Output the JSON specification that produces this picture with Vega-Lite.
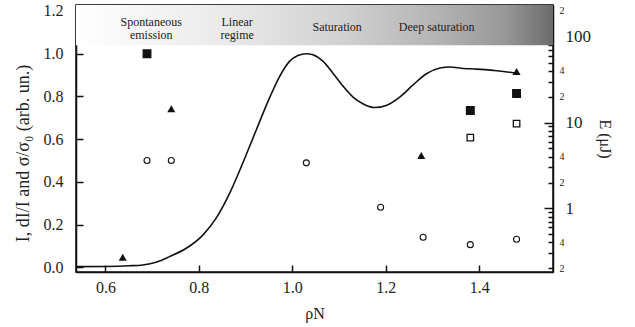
{
  "$schema": "https://vega.github.io/schema/vega-lite/v6.json",
  "autosize": {"type": "none"},
  "padding": {"left": 76, "top": 5, "right": 82, "bottom": 55},
  "width": 477,
  "height": 267,
  "background": "white",
  "config": {
    "font": "Liberation Serif",
    "view": {"stroke": "#111", "strokeWidth": 1.5},
    "axis": {
      "grid": false,
      "zindex": 1,
      "domainColor": "#111",
      "domainWidth": 1.5,
      "tickColor": "#111",
      "tickWidth": 1.5,
      "labelColor": "#222",
      "titleColor": "#222",
      "labelFont": "Liberation Serif",
      "titleFont": "Liberation Serif",
      "titleFontWeight": "normal",
      "labelFontSize": 16,
      "titleFontSize": 16,
      "labelFlush": false,
      "labelOverlap": false
    }
  },
  "datasets": {
    "curve": [
      {"rhoN": 0.537, "I": 0.003}, {"rhoN": 0.6, "I": 0.004}, {"rhoN": 0.65, "I": 0.007},
      {"rhoN": 0.68, "I": 0.011}, {"rhoN": 0.71, "I": 0.025}, {"rhoN": 0.737, "I": 0.05},
      {"rhoN": 0.773, "I": 0.089}, {"rhoN": 0.809, "I": 0.152}, {"rhoN": 0.837, "I": 0.23},
      {"rhoN": 0.866, "I": 0.347}, {"rhoN": 0.894, "I": 0.488}, {"rhoN": 0.923, "I": 0.644},
      {"rhoN": 0.951, "I": 0.792}, {"rhoN": 0.973, "I": 0.894}, {"rhoN": 0.994, "I": 0.964},
      {"rhoN": 1.012, "I": 0.992}, {"rhoN": 1.03, "I": 1.0}, {"rhoN": 1.044, "I": 0.995},
      {"rhoN": 1.066, "I": 0.964}, {"rhoN": 1.087, "I": 0.909}, {"rhoN": 1.109, "I": 0.847},
      {"rhoN": 1.13, "I": 0.797}, {"rhoN": 1.151, "I": 0.766}, {"rhoN": 1.176, "I": 0.748},
      {"rhoN": 1.201, "I": 0.758}, {"rhoN": 1.23, "I": 0.797}, {"rhoN": 1.259, "I": 0.855},
      {"rhoN": 1.287, "I": 0.906}, {"rhoN": 1.316, "I": 0.933}, {"rhoN": 1.337, "I": 0.9375},
      {"rhoN": 1.366, "I": 0.931}, {"rhoN": 1.394, "I": 0.928}, {"rhoN": 1.43, "I": 0.922},
      {"rhoN": 1.466, "I": 0.913}, {"rhoN": 1.484, "I": 0.906}
    ],
    "triangles": [
      {"rhoN": 0.637, "v": 0.047}, {"rhoN": 0.741, "v": 0.742},
      {"rhoN": 1.276, "v": 0.523}, {"rhoN": 1.48, "v": 0.917}
    ],
    "circles": [
      {"rhoN": 0.689, "v": 0.5}, {"rhoN": 0.741, "v": 0.5}, {"rhoN": 1.03, "v": 0.489},
      {"rhoN": 1.189, "v": 0.281}, {"rhoN": 1.28, "v": 0.141}, {"rhoN": 1.381, "v": 0.106},
      {"rhoN": 1.48, "v": 0.131}
    ],
    "energy": [
      {"rhoN": 0.689, "E": 63.4, "kind": "filled"},
      {"rhoN": 1.381, "E": 13.8, "kind": "filled"},
      {"rhoN": 1.48, "E": 21.8, "kind": "filled"},
      {"rhoN": 1.381, "E": 6.68, "kind": "open"},
      {"rhoN": 1.48, "E": 9.72, "kind": "open"}
    ],
    "regimes": [
      {"rhoN": 0.698, "label": "Spontaneous\nemission"},
      {"rhoN": 0.882, "label": "Linear\nregime"},
      {"rhoN": 1.096, "label": "Saturation"},
      {"rhoN": 1.309, "label": "Deep saturation"}
    ],
    "band": [{"x1": 0.537, "x2": 1.558, "y1": 1.039, "y2": 1.228}]
  },
  "layer": [
    {
      "data": {"name": "band"},
      "mark": {
        "type": "rect",
        "color": {
          "gradient": "linear", "x1": 0, "y1": 0, "x2": 1, "y2": 0,
          "stops": [
            {"offset": 0, "color": "#ffffff"},
            {"offset": 0.3, "color": "#ebebeb"},
            {"offset": 0.55, "color": "#d2d2d2"},
            {"offset": 0.75, "color": "#b5b5b5"},
            {"offset": 0.9, "color": "#979797"},
            {"offset": 1, "color": "#6c6c6c"}
          ]
        }
      },
      "encoding": {
        "x": {"field": "x1", "type": "quantitative", "scale": {"domain": [0.537, 1.558], "nice": false, "zero": false}, "axis": null},
        "x2": {"field": "x2"},
        "y": {"field": "y1", "type": "quantitative", "scale": {"domain": [-0.022, 1.228], "nice": false, "zero": false}, "axis": null},
        "y2": {"field": "y2"}
      }
    },
    {
      "data": {"name": "regimes"},
      "transform": [{"filter": "indexof(datum.label, '\\n') >= 0"}],
      "mark": {"type": "text", "font": "Liberation Serif", "fontSize": 12, "color": "#222", "baseline": "middle", "align": "center", "lineBreak": "\n", "lineHeight": 12.5},
      "encoding": {
        "x": {"field": "rhoN", "type": "quantitative", "scale": {"domain": [0.537, 1.558], "nice": false, "zero": false}, "axis": null},
        "y": {"datum": 1.147, "type": "quantitative", "scale": {"domain": [-0.022, 1.228], "nice": false, "zero": false}, "axis": null},
        "text": {"field": "label"}
      }
    },
    {
      "data": {"name": "regimes"},
      "transform": [{"filter": "indexof(datum.label, '\\n') < 0"}],
      "mark": {"type": "text", "font": "Liberation Serif", "fontSize": 12, "color": "#222", "baseline": "middle", "align": "center"},
      "encoding": {
        "x": {"field": "rhoN", "type": "quantitative", "scale": {"domain": [0.537, 1.558], "nice": false, "zero": false}, "axis": null},
        "y": {"datum": 1.123, "type": "quantitative", "scale": {"domain": [-0.022, 1.228], "nice": false, "zero": false}, "axis": null},
        "text": {"field": "label"}
      }
    },
    {
      "data": {"name": "curve"},
      "mark": {"type": "line", "color": "#111", "strokeWidth": 1.6, "interpolate": "monotone"},
      "encoding": {
        "x": {
          "field": "rhoN", "type": "quantitative",
          "scale": {"domain": [0.537, 1.558], "nice": false, "zero": false},
          "axis": {"orient": "bottom", "title": "ρN", "values": [0.6, 0.8, 1.0, 1.2, 1.4], "format": ".1f", "tickSize": -7, "labelPadding": 14, "titlePadding": 10}
        },
        "y": {
          "field": "I", "type": "quantitative",
          "scale": {"domain": [-0.022, 1.228], "nice": false, "zero": false},
          "axis": {"orient": "left", "title": "I, dI/I and σ/σ₀ (arb. un.)", "titleFontSize": 18, "titleY": 148, "values": [0, 0.2, 0.4, 0.6, 0.8, 1.0, 1.2], "format": ".1f", "tickSize": -7, "labelPadding": 20, "titlePadding": 11}
        }
      }
    },
    {
      "data": {"name": "triangles"},
      "mark": {"type": "point", "shape": "triangle-up", "filled": true, "color": "#111", "size": 65, "opacity": 1},
      "encoding": {
        "x": {
          "field": "rhoN", "type": "quantitative",
          "scale": {"domain": [0.537, 1.558], "nice": false, "zero": false},
          "axis": {"orient": "top", "title": null, "labels": false, "values": [0.6, 0.8, 1.0, 1.2, 1.4], "tickSize": -7}
        },
        "y": {"field": "v", "type": "quantitative", "scale": {"domain": [-0.022, 1.228], "nice": false, "zero": false}, "axis": null}
      }
    },
    {
      "data": {"name": "circles"},
      "mark": {"type": "point", "shape": "circle", "filled": false, "stroke": "#111", "fill": "white", "strokeWidth": 1.1, "size": 36, "opacity": 1},
      "encoding": {
        "x": {"field": "rhoN", "type": "quantitative", "scale": {"domain": [0.537, 1.558], "nice": false, "zero": false}, "axis": null},
        "y": {"field": "v", "type": "quantitative", "scale": {"domain": [-0.022, 1.228], "nice": false, "zero": false}, "axis": null}
      }
    },
    {
      "data": {"name": "energy"},
      "mark": {"type": "point", "shape": "square", "strokeWidth": 1.3, "opacity": 1},
      "encoding": {
        "x": {"field": "rhoN", "type": "quantitative", "scale": {"domain": [0.537, 1.558], "nice": false, "zero": false}, "axis": null},
        "y": {
          "field": "E", "type": "quantitative",
          "scale": {"type": "log", "domain": [0.181, 234.6], "nice": false, "zero": false},
          "axis": {
            "orient": "right", "title": "E (μJ)",
            "values": [0.2, 0.3, 0.4, 0.5, 0.6, 0.7, 0.8, 0.9, 1, 2, 3, 4, 5, 6, 7, 8, 9, 10, 20, 30, 40, 50, 60, 70, 80, 90, 100, 200],
            "format": "~g",
            "labelExpr": "indexof([1,10,100], datum.value) >= 0 ? datum.label : (indexof([0.2,0.4,2,4,20,40,200], datum.value) >= 0 ? (datum.value < 1 ? slice(datum.label, -1) : substring(datum.label, 0, 1)) : '')",
            "labelFontSize": {"condition": {"test": "datum.value == 1 || datum.value == 10 || datum.value == 100", "value": 17}, "value": 10},
            "labelPadding": {"condition": {"test": "datum.value == 1 || datum.value == 10 || datum.value == 100", "value": 21}, "value": 11},
            "tickSize": {"condition": {"test": "datum.value == 1 || datum.value == 10 || datum.value == 100", "value": -9}, "value": -5},
            "titlePadding": 6
          }
        },
        "fill": {"field": "kind", "type": "nominal", "scale": {"domain": ["filled", "open"], "range": ["#111", "white"]}, "legend": null},
        "stroke": {"value": "#111"},
        "size": {"field": "kind", "type": "nominal", "scale": {"domain": ["filled", "open"], "range": [58, 42]}, "legend": null}
      }
    }
  ],
  "resolve": {"scale": {"y": "independent"}, "axis": {"x": "independent", "y": "independent"}}
}
